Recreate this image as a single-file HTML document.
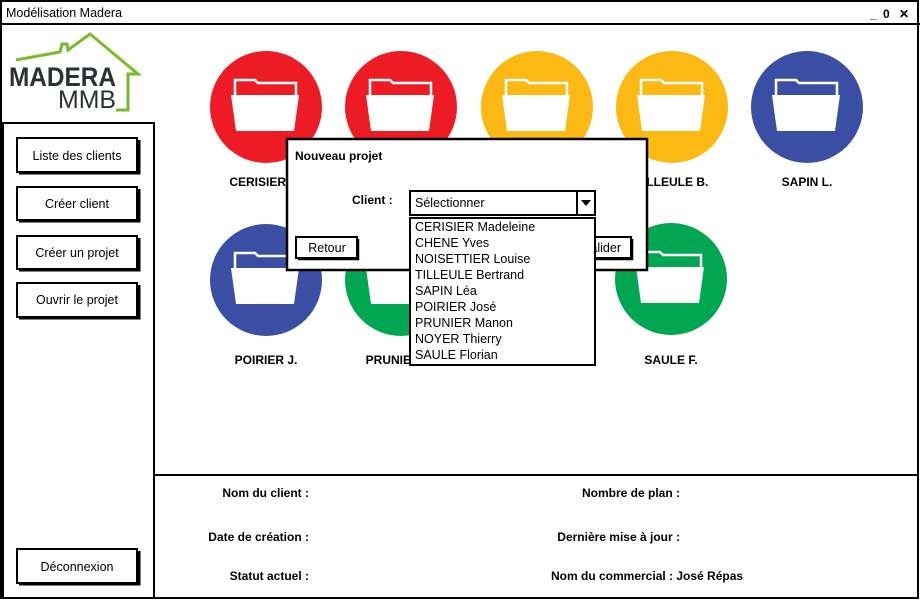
<!DOCTYPE html>
<html><head><meta charset="utf-8"><style>
body{margin:0;background:#fff;}
svg{display:block;font-family:"Liberation Sans",sans-serif;}
.b{font-weight:bold;font-size:12px;}
.n{font-size:12.5px;}
</style></head><body>
<svg width="920" height="600" viewBox="0 0 920 600">
<defs>
<g id="f">
<path d="M-31,-12 V-27 H-11 L-8,-24 H30 V-12" fill="none" stroke="#fff" stroke-width="2.5"/>
<path d="M-35,-12 H33 L28,24 H-30 Z" fill="#fff"/>
</g>
</defs>
<rect x="1" y="1" width="917" height="597" fill="#fff" stroke="#000" stroke-width="2"/>
<line x1="0" y1="24" x2="920" y2="24" stroke="#000" stroke-width="2"/>
<text x="6" y="17" class="n" font-size="13">Modélisation Madera</text>
<text x="870" y="18" class="b" font-size="14">_</text>
<text x="883" y="18" class="b" font-size="14">0</text>
<text x="899" y="18" class="b" font-size="14">✕</text>
<!-- logo -->
<path d="M16,60 L60,52 L62,44 L67,44 L68,50 L90,34 L138,74 L128,74 L128,110 L116,110" fill="none" stroke="#7ab929" stroke-width="3"/>
<text x="9" y="86" font-weight="bold" font-size="27" fill="#2b3033" textLength="107" lengthAdjust="spacingAndGlyphs">MADERA</text>
<text x="58" y="108" font-size="25" fill="#2b3033" textLength="58" lengthAdjust="spacingAndGlyphs">MMB</text>
<!-- sidebar -->
<rect x="3" y="123" width="151" height="475" fill="#fff" stroke="#000" stroke-width="2"/>
<rect x="154" y="475" width="764" height="123" fill="#fff" stroke="#000" stroke-width="2"/>
<g stroke="#000" fill="#fff">
<rect x="17" y="138" width="120" height="34" stroke-width="2"/><path d="M19,173 H139 V140" fill="none" stroke-width="3"/>
<rect x="17" y="187" width="120" height="33" stroke-width="2"/><path d="M19,221 H139 V189" fill="none" stroke-width="3"/>
<rect x="17" y="236" width="120" height="33" stroke-width="2"/><path d="M19,270 H139 V238" fill="none" stroke-width="3"/>
<rect x="17" y="283" width="120" height="34" stroke-width="2"/><path d="M19,318 H139 V285" fill="none" stroke-width="3"/>
<rect x="17" y="549" width="120" height="34" stroke-width="2"/><path d="M19,584 H139 V551" fill="none" stroke-width="3"/>
</g>
<g class="n" text-anchor="middle">
<text x="77" y="160">Liste des clients</text>
<text x="77" y="208">Créer client</text>
<text x="77" y="257">Créer un projet</text>
<text x="77" y="304">Ouvrir le projet</text>
<text x="77" y="571">Déconnexion</text>
</g>
<!-- circles -->
<circle cx="266" cy="107" r="56" fill="#ed1c24"/><use href="#f" x="266" y="107"/>
<circle cx="401" cy="107" r="56" fill="#ed1c24"/><use href="#f" x="401" y="107"/>
<circle cx="537" cy="107" r="56" fill="#fdb913"/><use href="#f" x="537" y="107"/>
<circle cx="672" cy="107" r="56" fill="#fdb913"/><use href="#f" x="672" y="107"/>
<circle cx="807" cy="107" r="56" fill="#3a4fa3"/><use href="#f" x="807" y="107"/>
<circle cx="266" cy="280" r="56" fill="#3a4fa3"/><use href="#f" x="266" y="280"/>
<circle cx="401" cy="280" r="56" fill="#00a651"/><use href="#f" x="401" y="280"/>
<circle cx="671" cy="279" r="56" fill="#00a651"/><use href="#f" x="671" y="279"/>
<g class="b" text-anchor="middle">
<text x="266" y="186">CERISIER M.</text>
<text x="672" y="186">TILLEULE B.</text>
<text x="807" y="186">SAPIN L.</text>
<text x="266" y="364">POIRIER J.</text>
<text x="401" y="364">PRUNIER M.</text>
<text x="671" y="364">SAULE F.</text>
</g>
<!-- dialog -->
<rect x="287" y="139" width="360" height="131" fill="#fff" stroke="#000" stroke-width="2.5"/>
<text x="295" y="160" class="b">Nouveau projet</text>
<text x="352" y="204" class="b">Client :</text>
<rect x="296" y="237" width="61" height="21" fill="#fff" stroke="#000" stroke-width="2"/><path d="M298,259 H358 V239" fill="none" stroke="#000" stroke-width="2.5"/>
<text x="327" y="252" class="n" text-anchor="middle">Retour</text>
<rect x="572" y="237" width="59" height="21" fill="#fff" stroke="#000" stroke-width="2"/><path d="M574,259 H632 V239" fill="none" stroke="#000" stroke-width="2.5"/>
<text x="621" y="252" class="n" text-anchor="end">Valider</text>
<rect x="410" y="191" width="185" height="24" fill="#fff" stroke="#000" stroke-width="2"/>
<line x1="577" y1="191" x2="577" y2="215" stroke="#000" stroke-width="2"/>
<path d="M581,200 H591 L586,206 Z" fill="#000"/>
<text x="415" y="207" class="n">Sélectionner</text>
<rect x="410" y="218" width="185" height="147" fill="#fff" stroke="#000" stroke-width="2"/>
<g class="n">
<text x="415" y="231">CERISIER Madeleine</text>
<text x="415" y="247">CHENE Yves</text>
<text x="415" y="263">NOISETTIER Louise</text>
<text x="415" y="279">TILLEULE Bertrand</text>
<text x="415" y="295">SAPIN Léa</text>
<text x="415" y="311">POIRIER José</text>
<text x="415" y="327">PRUNIER Manon</text>
<text x="415" y="343">NOYER Thierry</text>
<text x="415" y="359">SAULE Florian</text>
</g>
<!-- bottom -->
<g class="b" text-anchor="end">
<text x="309" y="497">Nom du client :</text>
<text x="309" y="541">Date de création :</text>
<text x="309" y="580">Statut actuel :</text>
<text x="680" y="497">Nombre de plan :</text>
<text x="680" y="541">Dernière mise à jour :</text>
</g>
<text x="551" y="580" class="b">Nom du commercial : José Répas</text>
</svg>
</body></html>
